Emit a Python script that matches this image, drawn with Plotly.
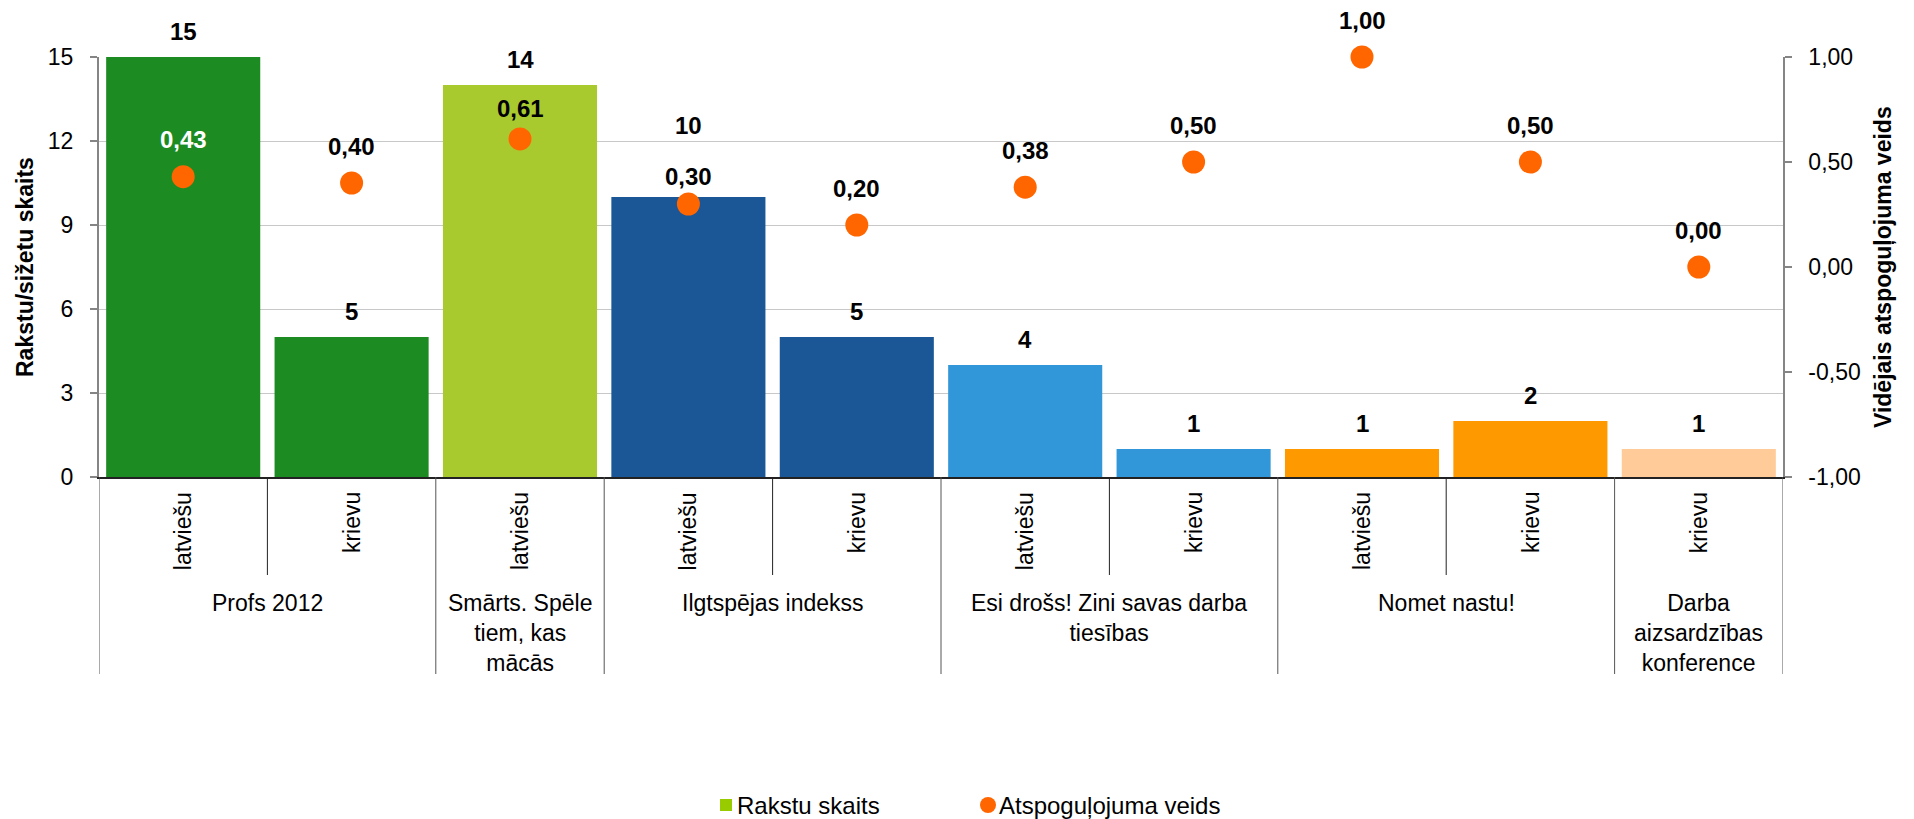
import plotly.graph_objects as go

# --- data -----------------------------------------------------------------
groups = [
    "Profs 2012", "Profs 2012",
    "Smārts. Spēle tiem, kas mācās",
    "Ilgtspējas indekss", "Ilgtspējas indekss",
    "Esi drošs! Zini savas darba tiesības", "Esi drošs! Zini savas darba tiesības",
    "Nomet nastu!", "Nomet nastu!",
    "Darba aizsardzības konference",
]
languages = ["latviešu", "krievu", "latviešu", "latviešu", "krievu",
             "latviešu", "krievu", "latviešu", "krievu", "krievu"]
article_counts = [15, 5, 14, 10, 5, 4, 1, 1, 2, 1]
avg_coverage = [0.43, 0.40, 0.61, 0.30, 0.20, 0.38, 0.50, 1.00, 0.50, 0.00]

left_ticks = [0, 3, 6, 9, 12, 15]
right_ticks = [-1.0, -0.5, 0.0, 0.5, 1.0]

bar_series_name = "Rakstu skaits"
dot_series_name = "Atspoguļojuma veids"
left_title = "Rakstu/sižetu skaits"
right_title = "Vidējais atspoguļojuma veids"

# wrapped display text for the group labels
group_display = {
    "Profs 2012": "Profs 2012",
    "Smārts. Spēle tiem, kas mācās": "Smārts. Spēle<br>tiem, kas<br>mācās",
    "Ilgtspējas indekss": "Ilgtspējas indekss",
    "Esi drošs! Zini savas darba tiesības": "Esi drošs! Zini savas darba<br>tiesības",
    "Nomet nastu!": "Nomet nastu!",
    "Darba aizsardzības konference": "Darba<br>aizsardzības<br>konference",
}

# --- styling --------------------------------------------------------------
group_colors = {
    "Profs 2012": "#1c8c22",
    "Smārts. Spēle tiem, kas mācās": "#a9ca2f",
    "Ilgtspējas indekss": "#1b5797",
    "Esi drošs! Zini savas darba tiesības": "#3197d8",
    "Nomet nastu!": "#ff9900",
    "Darba aizsardzības konference": "#ffcc99",
}
DOT_COLOR = "#ff6600"
LEGEND_BAR_COLOR = "#99cc00"
FONT = "Liberation Sans, Arial, sans-serif"

W, H = 1914, 819
L, R, T, B = 99, 131, 57, 342
PW, PH = W - L - R, H - T - B


def px_x(x):
    return (x - L) / PW


def px_y(y):
    return (H - B - y) / PH


n = len(article_counts)
xs = list(range(n))
bar_colors = [group_colors[g] for g in groups]

fig = go.Figure()
fig.add_trace(go.Bar(
    x=xs, y=article_counts, width=0.915,
    marker=dict(color=bar_colors, line=dict(width=0)),
    name=bar_series_name, showlegend=False, hoverinfo="y",
))
fig.add_trace(go.Scatter(
    x=xs, y=avg_coverage, yaxis="y2", mode="markers", cliponaxis=False,
    marker=dict(color=DOT_COLOR, size=23, line=dict(width=0)),
    name=dot_series_name, showlegend=False,
))

annotations = []
shapes = []

# value labels above bars (one label lifted clear of a dot label)
bar_label_lift = {3: 46}
for i, v in enumerate(article_counts):
    annotations.append(dict(
        x=i, y=v, xref="x", yref="y", text=f"<b>{v}</b>", showarrow=False,
        yshift=26 + bar_label_lift.get(i, 0), yanchor="middle",
        font=dict(family=FONT, size=24, color="#000000"),
    ))

# value labels above dots
dot_label_shift = {2: 30, 3: 28}
dot_label_color = {0: "#ffffff"}
for i, v in enumerate(avg_coverage):
    annotations.append(dict(
        x=i, y=v, xref="x", yref="y2",
        text="<b>" + f"{v:.2f}".replace(".", ",") + "</b>", showarrow=False,
        yshift=dot_label_shift.get(i, 37), yanchor="middle",
        font=dict(family=FONT, size=24, color=dot_label_color.get(i, "#000000")),
    ))

# rotated language labels
for i, lang in enumerate(languages):
    annotations.append(dict(
        x=i, y=px_y(490), xref="x", yref="paper", text=lang, showarrow=False,
        textangle=-90, xanchor="center", yanchor="top",
        font=dict(family=FONT, size=23, color="#000000"),
    ))

# group spans, labels and dividers
spans = []
start = 0
for i in range(1, n + 1):
    if i == n or groups[i] != groups[start]:
        spans.append((groups[start], start, i - 1))
        start = i

DIV_SHORT = px_y(575)
DIV_LONG = px_y(674)
for g, a, b in spans:
    annotations.append(dict(
        x=(a + b) / 2, y=px_y(588), xref="x", yref="paper",
        text=group_display[g], showarrow=False, xanchor="center", yanchor="top",
        align="center", font=dict(family=FONT, size=23, color="#000000"),
    ))
    for k in range(a, b):
        shapes.append(dict(type="line", xref="x", yref="paper",
                           x0=k + 0.5, x1=k + 0.5, y0=0, y1=DIV_SHORT,
                           line=dict(color="#222222", width=1)))
edges = sorted({a - 0.5 for _, a, _ in spans} | {b + 0.5 for _, _, b in spans})
for e in edges:
    shapes.append(dict(type="line", xref="x", yref="paper",
                       x0=e, x1=e, y0=0, y1=DIV_LONG,
                       line=dict(color="#555555", width=1)))

# axis titles
annotations.append(dict(
    x=px_x(25), y=0.5, xref="paper", yref="paper", text=f"<b>{left_title}</b>",
    textangle=-90, showarrow=False, xanchor="center", yanchor="middle",
    font=dict(family=FONT, size=23, color="#000000"),
))
annotations.append(dict(
    x=px_x(1883), y=0.5, xref="paper", yref="paper", text=f"<b>{right_title}</b>",
    textangle=-90, showarrow=False, xanchor="center", yanchor="middle",
    font=dict(family=FONT, size=23, color="#000000"),
))

# legend
LEG_Y = 805
shapes.append(dict(type="rect", xref="paper", yref="paper",
                   x0=px_x(720), x1=px_x(732), y0=px_y(LEG_Y + 6), y1=px_y(LEG_Y - 6),
                   fillcolor=LEGEND_BAR_COLOR, line=dict(width=0)))
shapes.append(dict(type="circle", xref="paper", yref="paper",
                   x0=px_x(980), x1=px_x(996), y0=px_y(LEG_Y + 8), y1=px_y(LEG_Y - 8),
                   fillcolor=DOT_COLOR, line=dict(width=0)))
annotations.append(dict(
    x=px_x(735), y=px_y(LEG_Y), xref="paper", yref="paper", text=bar_series_name,
    showarrow=False, xanchor="left", yanchor="middle",
    font=dict(family=FONT, size=24, color="#000000"),
))
annotations.append(dict(
    x=px_x(997), y=px_y(LEG_Y), xref="paper", yref="paper", text=dot_series_name,
    showarrow=False, xanchor="left", yanchor="middle",
    font=dict(family=FONT, size=24, color="#000000"),
))

right_text = [f"{v:.2f}".replace(".", ",") for v in right_ticks]

fig.update_layout(
    width=W, height=H, autosize=False,
    margin=dict(l=L, r=R, t=T, b=B, pad=0),
    paper_bgcolor="#ffffff", plot_bgcolor="#ffffff",
    showlegend=False,
    font=dict(family=FONT, size=22, color="#000000"),
    xaxis=dict(
        range=[-0.5, n - 0.5], showticklabels=False, showgrid=False,
        zeroline=False, showline=True, linecolor="#222222", linewidth=1.5,
        ticks="", fixedrange=True,
    ),
    yaxis=dict(
        range=[0, 15], tickvals=left_ticks, ticktext=[str(v) for v in left_ticks],
        showgrid=True, gridcolor="#c8c8c8", gridwidth=1.3, zeroline=False,
        showline=True, linecolor="#858585", linewidth=2,
        ticks="outside", ticklen=7, tickcolor="#858585", tickwidth=1.5,
        ticklabelstandoff=12,
        tickfont=dict(family=FONT, size=23, color="#000000"),
    ),
    yaxis2=dict(
        range=[-1, 1], overlaying="y", side="right",
        tickvals=right_ticks, ticktext=right_text,
        showgrid=False, zeroline=False,
        showline=True, linecolor="#858585", linewidth=1.5,
        ticks="outside", ticklen=7, tickcolor="#858585", tickwidth=1.5,
        ticklabelstandoff=12,
        tickfont=dict(family=FONT, size=23, color="#000000"),
    ),
    annotations=annotations,
    shapes=shapes,
)

fig.write_html("out.html")
